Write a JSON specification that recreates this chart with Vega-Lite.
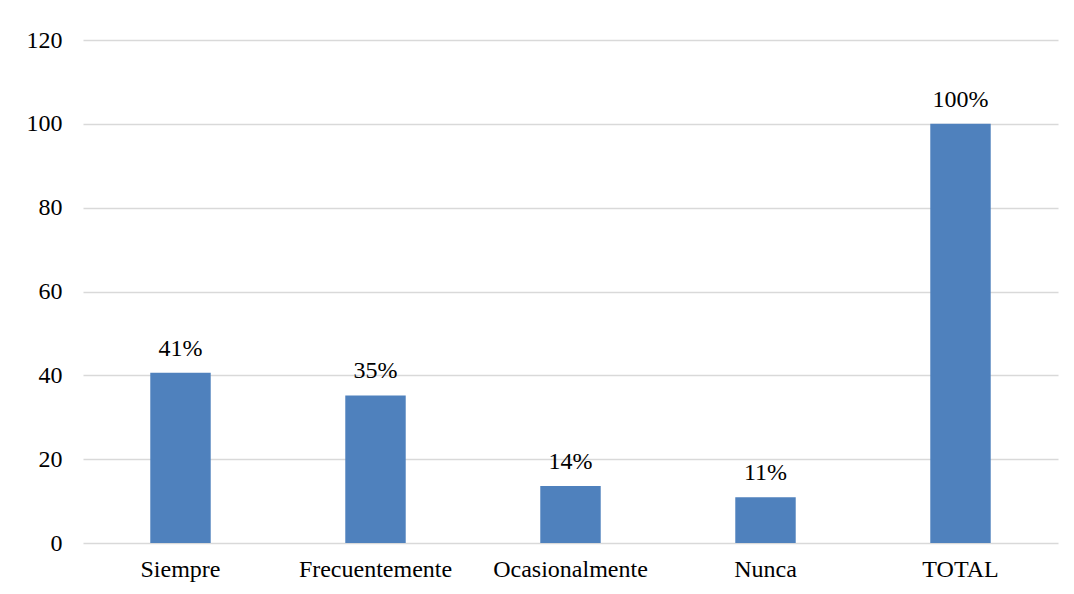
{
  "$schema": "https://vega.github.io/schema/vega-lite/v6.json",
  "autosize": "none",
  "width": 975,
  "height": 503,
  "padding": {"left": 83, "top": 40, "right": 16, "bottom": 51},
  "background": "white",
  "data": {"values": [
    {"cat": "Siempre", "value": 40.6, "label": "41%"},
    {"cat": "Frecuentemente", "value": 35.2, "label": "35%"},
    {"cat": "Ocasionalmente", "value": 13.6, "label": "14%"},
    {"cat": "Nunca", "value": 10.9, "label": "11%"},
    {"cat": "TOTAL", "value": 100, "label": "100%"}
  ]},
  "encoding": {
    "x": {"field": "cat", "type": "nominal", "sort": null,
      "scale": {"paddingInner": 0.69, "paddingOuter": 0.345},
      "axis": {"title": null, "labelAngle": 0, "domain": false, "ticks": false, "labelPadding": 14,
        "labelFont": "Liberation Serif", "labelFontSize": 24, "labelColor": "#000000"}},
    "y": {"field": "value", "type": "quantitative",
      "scale": {"domain": [0, 120]},
      "axis": {"title": null, "values": [0, 20, 40, 60, 80, 100, 120], "domain": false, "ticks": false,
        "labelPadding": 21, "labelFont": "Liberation Serif", "labelFontSize": 24, "labelColor": "#000000",
        "gridColor": "#d9d9d9", "gridWidth": 1.5}}
  },
  "layer": [
    {"mark": {"type": "bar", "color": "#4f81bd"}},
    {"mark": {"type": "text", "dy": -12, "baseline": "bottom", "font": "Liberation Serif", "fontSize": 24, "color": "#000000"},
     "encoding": {"text": {"field": "label"}}}
  ],
  "config": {"view": {"stroke": null}}
}
